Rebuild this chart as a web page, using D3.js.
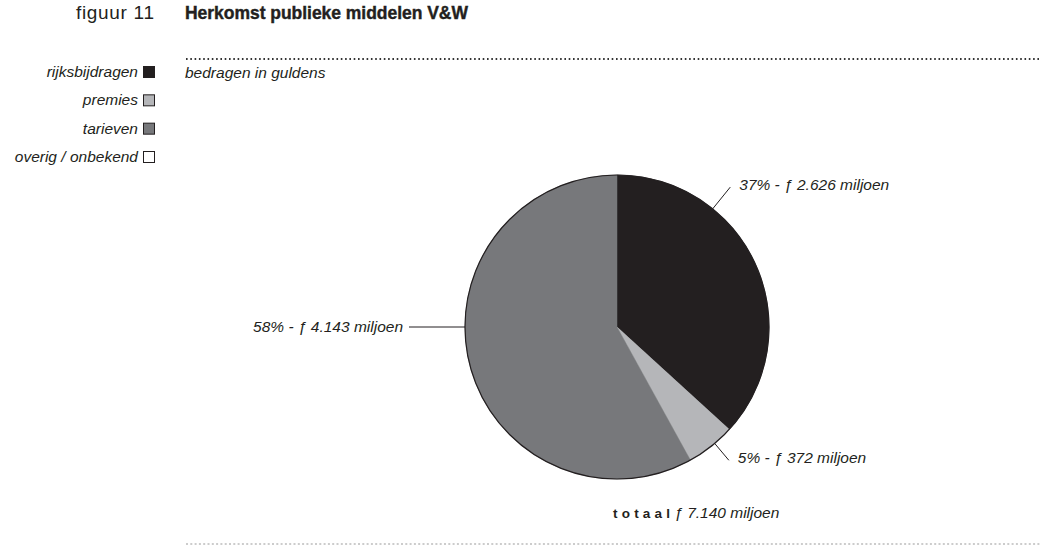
<!DOCTYPE html>
<html>
<head>
<meta charset="utf-8">
<script src="https://cdn.jsdelivr.net/npm/d3@7"></script>
<style>
  html, body { margin: 0; padding: 0; background: #fff; }
  svg { display: block; font-family: "Liberation Sans", Arial, Helvetica, sans-serif; }
</style>
</head>
<body>
<svg id="chart" width="1040" height="546"></svg>
<script>
// Herkomst publieke middelen V&W (bedragen in miljoenen guldens)
const categories = ["rijksbijdragen", "premies", "tarieven", "overig / onbekend"];
const amounts = [2626, 372, 4143, 0];
const percentLabels = ["37%", "5%", "58%", null];
const amountLabels = ["2.626", "372", "4.143", null];
const totalLabel = "7.140";
const colors = ["#231f20", "#b5b6b9", "#77787b", "#ffffff"];

const svg = d3.select("#chart");
const cx = 617, cy = 327, r = 152;
const ink = "#231f20";

// Heading
svg.append("text").attr("x", 76).attr("y", 19)
  .attr("font-size", 19).attr("fill", ink)
  .attr("textLength", 78).attr("lengthAdjust", "spacing").text("figuur 11");
svg.append("text").attr("x", 185).attr("y", 19)
  .attr("font-size", 17.5).attr("font-weight", "bold").attr("fill", ink)
  .attr("stroke", ink).attr("stroke-width", 0.4)
  .attr("textLength", 283).attr("lengthAdjust", "spacing")
  .text("Herkomst publieke middelen V&W");

// Dotted rules
svg.append("line").attr("x1", 186).attr("x2", 1040).attr("y1", 59).attr("y2", 59)
  .attr("stroke", "#333").attr("stroke-width", 2).attr("stroke-dasharray", "1.6,2.7");
svg.append("line").attr("x1", 186).attr("x2", 1040).attr("y1", 544).attr("y2", 544)
  .attr("stroke", "#999").attr("stroke-width", 1.2).attr("stroke-dasharray", "2,2.3");

svg.append("text").attr("x", 185).attr("y", 78)
  .attr("font-size", 15.5).attr("font-style", "italic").attr("fill", ink)
  .text("bedragen in guldens");

// Legend
const legendY = d3.scalePoint().domain(categories).range([72, 157]);
const legend = svg.append("g").selectAll("g").data(categories).join("g")
  .attr("transform", d => `translate(0,${legendY(d)})`);
legend.append("text").attr("x", 138).attr("y", 5).attr("text-anchor", "end")
  .attr("font-size", 15.5).attr("font-style", "italic").attr("fill", ink)
  .text(d => d);
legend.append("rect").attr("x", 143.5).attr("y", -5.5).attr("width", 11).attr("height", 11)
  .attr("fill", (d, i) => colors[i]).attr("stroke", ink).attr("stroke-width", 1);

// Pie, clockwise from 12 o'clock
const pie = d3.pie().sort(null).value(d => d.value);
const slices = pie(categories.map((c, i) => ({ name: c, value: amounts[i], idx: i })))
  .filter(s => s.data.value > 0);
const arc = d3.arc().innerRadius(0).outerRadius(r);
const g = svg.append("g").attr("transform", `translate(${cx},${cy})`);
g.selectAll("path").data(slices).join("path")
  .attr("d", arc).attr("fill", d => colors[d.data.idx])
  .attr("stroke", d => colors[d.data.idx]).attr("stroke-width", 0.5);
g.append("circle").attr("r", r).attr("fill", "none").attr("stroke", ink).attr("stroke-width", 1.2);

// Leader lines and value labels
const labelAngle = { 0: 39, 1: 140, 2: 270 };   // degrees clockwise from top
const leaderLen = { 0: 28, 1: 22, 2: 56 };
const labelled = slices.filter(s => percentLabels[s.data.idx]);
labelled.forEach(s => {
  const i = s.data.idx;
  const a = labelAngle[i] * Math.PI / 180;
  const p0 = [Math.sin(a) * r, -Math.cos(a) * r];
  const p1 = [Math.sin(a) * (r + leaderLen[i]), -Math.cos(a) * (r + leaderLen[i])];
  g.append("line").attr("x1", p0[0]).attr("y1", p0[1]).attr("x2", p1[0]).attr("y2", p1[1])
    .attr("stroke", ink).attr("stroke-width", 1);
  const right = p1[0] > 0;
  g.append("text")
    .attr("x", right ? p1[0] + 9 : p1[0] - 6)
    .attr("y", p1[1] + (right ? 3 : 5))
    .attr("text-anchor", right ? "start" : "end")
    .attr("font-size", 15.5).attr("font-style", "italic").attr("fill", ink)
    .text(`${percentLabels[i]} - \u0192 ${amountLabels[i]} miljoen`);
});

// Total
const tot = svg.append("text").attr("x", 613).attr("y", 518).attr("fill", ink);
tot.append("tspan").attr("font-size", 13.5).attr("font-weight", "bold")
  .attr("letter-spacing", 4.2).text("totaal");
tot.append("tspan").attr("font-size", 15.5).attr("font-style", "italic")
  .attr("dx", 0).text(`\u0192 ${totalLabel} miljoen`);
</script>
</body>
</html>
